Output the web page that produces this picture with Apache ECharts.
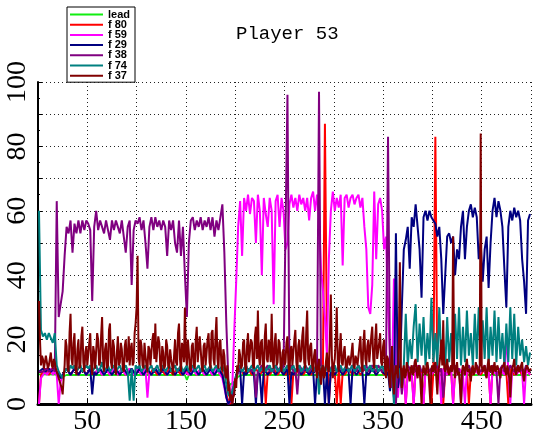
<!DOCTYPE html>
<html>
<head>
<meta charset="utf-8">
<script src="https://cdn.jsdelivr.net/npm/echarts@6/dist/echarts.min.js"></script>
<style>
  html, body { margin: 0; padding: 0; background: #fff; }
  #chart { width: 534px; height: 441px; }
</style>
</head>
<body>
<div id="chart"></div>
<script>
// Most follower traces are sampled every 2 frames from frame 1;
// f 37 is kept at every frame.
const X_FIRST = 1;
const X_STEP = 2;
const F37_STEP = 1;

const seriesNames = ['lead', 'f 80', 'f 59', 'f 29', 'f 38', 'f 74', 'f 37'];
const seriesColors = ['#11ee11', '#ff0000', '#ff00ff', '#000080', '#800080', '#008080', '#800000'];

// lead stays almost flat, so it is stored at its own frames
const leadFrames = [1, 21, 25, 27, 29, 149, 151, 153, 187, 191, 195, 199, 203, 207, 499];
const leadValues = [9.2, 9.1, 8.5, 8, 9, 9, 7.5, 9, 9, 8, 6, 7, 8.5, 9, 9];

const f80 = [
  0, 9, 10, 11, 10, 9, 10, 11, 10, 9, 10, 8, 9, 10, 11, 10, 9, 10, 11, 10, 9, 10, 11, 10, 9,
  10, 11, 10, 9, 10, 11, 10, 9, 10, 11, 10, 9, 10, 11, 10, 9, 10, 11, 10, 9, 10, 11, 10, 9, 10,
  11, 10, 9, 10, 11, 10, 9, 10, 11, 10, 9, 10, 11, 10, 9, 10, 11, 10, 9, 10, 11, 10, 9, 10, 11,
  10, 9, 10, 11, 10, 9, 10, 11, 10, 9, 10, 11, 10, 9, 10, 11, 10, 9, 10, 6, 3, 1, 0, 2, 5,
  8, 10, 11, 10, 9, 10, 11, 10, 9, 10, 11, 10, 9, 10, 11, 0, 10, 9, 10, 11, 10, 9, 10, 11, 10,
  9, 10, 11, 0, 10, 9, 10, 11, 10, 9, 10, 11, 10, 9, 10, 11, 10, 9, 10, 11, 87, 20, 0, 10, 9,
  10, 0, 11, 0, 10, 9, 10, 11, 10, 9, 10, 11, 10, 9, 10, 11, 10, 9, 10, 11, 10, 9, 10, 11, 10,
  9, 10, 11, 10, 9, 10, 12, 10, 9, 11, 10, 0, 10, 9, 10, 0, 11, 10, 9, 10, 0, 11, 10, 9, 0,
  10, 83, 9, 10, 11, 0, 10, 9, 11, 10, 0, 10, 9, 11, 10, 9, 10, 11, 0, 10, 9, 10, 11, 10, 9,
  10, 11, 9, 10, 0, 11, 10, 9, 10, 11, 10, 9, 10, 0, 11, 10, 9, 10, 11, 10, 9, 10, 11, 10, 9
];

const f59 = [
  0, 8, 9, 10, 9, 10, 11, 9, 10, 9, 0, 7, 9, 10, 11, 10, 9, 10, 11, 10, 9, 10, 11, 10, 9,
  10, 11, 10, 9, 10, 11, 10, 9, 10, 11, 10, 9, 10, 11, 10, 9, 10, 11, 10, 9, 10, 11, 10, 9, 10,
  11, 10, 9, 10, 11, 2, 10, 9, 10, 11, 10, 9, 10, 11, 10, 9, 10, 11, 10, 9, 10, 11, 10, 9, 10,
  10, 9, 10, 11, 10, 9, 10, 11, 10, 9, 10, 11, 10, 9, 10, 11, 10, 9, 8, 5, 2, 0, 1, 5, 22,
  38, 55, 63, 46, 64, 60, 65, 59, 64, 63, 50, 65, 60, 40, 64, 59, 55, 64, 60, 31, 63, 65, 55, 64, 60,
  48, 50, 62, 65, 61, 64, 60, 65, 62, 64, 60, 64, 57, 64, 66, 60, 65, 58, 42, 35, 27, 15, 45, 60, 66,
  60, 64, 61, 65, 43, 64, 65, 61, 64, 65, 62, 64, 65, 61, 64, 55, 48, 30, 28, 37, 66, 45, 62, 64, 60,
  48, 52, 30, 15, 8, 39, 10, 2, 11, 10, 9, 0, 10, 11, 9, 0, 10, 12, 10, 9, 0, 10, 11, 10, 9,
  10, 11, 9, 10, 0, 11, 10, 9, 10, 11, 0, 10, 9, 11, 10, 9, 0, 11, 10, 9, 10, 11, 10, 9, 10,
  11, 10, 9, 10, 0, 11, 10, 9, 10, 11, 10, 9, 22, 10, 0, 11, 10, 9, 10, 11, 10, 0, 11, 10, 9
];

const f29 = [
  10, 10, 11, 10, 10, 11, 10, 10, 11, 10, 9, 8, 9, 10, 11, 10, 9, 10, 11, 10, 9, 10, 11, 10, 9,
  10, 11, 3, 10, 9, 10, 11, 10, 9, 10, 11, 10, 9, 10, 11, 10, 9, 10, 11, 10, 9, 10, 11, 10, 9,
  10, 11, 10, 9, 10, 11, 10, 9, 10, 11, 10, 9, 10, 11, 10, 9, 10, 11, 10, 9, 10, 11, 10, 9, 10,
  11, 10, 9, 10, 11, 10, 9, 10, 11, 10, 9, 10, 11, 10, 9, 10, 11, 10, 9, 6, 2, 0, 1, 3, 6,
  9, 10, 11, 0, 10, 9, 10, 11, 10, 9, 0, 10, 9, 0, 11, 10, 9, 10, 11, 10, 9, 10, 11, 10, 9,
  10, 11, 0, 10, 9, 10, 11, 10, 9, 10, 11, 10, 9, 10, 11, 0, 10, 9, 10, 11, 0, 10, 0, 11, 10,
  9, 10, 11, 10, 9, 10, 11, 10, 0, 11, 10, 9, 10, 11, 10, 0, 10, 9, 10, 11, 10, 9, 10, 11, 10,
  10, 9, 10, 4, 11, 2, 53, 5, 10, 30, 48, 51, 55, 42, 58, 55, 62, 55, 48, 33, 58, 60, 57, 60, 58,
  58, 56, 52, 55, 45, 28, 40, 52, 53, 50, 52, 40, 48, 45, 55, 60, 45, 55, 60, 62, 58, 61, 58, 45, 50,
  38, 48, 52, 36, 50, 60, 64, 58, 63, 60, 55, 42, 30, 55, 60, 57, 61, 58, 60, 57, 45, 38, 28, 57, 59
];

const f38 = [
  10, 10, 10, 10, 11, 10, 10, 11, 10, 63, 27, 31, 35, 46, 55, 53, 57, 47, 56, 53, 57, 53, 57, 54, 57,
  56, 54, 32, 55, 60, 54, 57, 55, 53, 57, 54, 51, 57, 54, 57, 55, 53, 57, 52, 47, 55, 57, 37, 54, 57,
  56, 58, 54, 57, 50, 42, 55, 58, 54, 58, 55, 57, 54, 57, 55, 46, 57, 54, 57, 50, 47, 57, 46, 55, 40,
  27, 50, 57, 58, 54, 57, 55, 58, 54, 57, 55, 58, 54, 58, 52, 57, 54, 58, 62, 47, 25, 8, 2, 0, 5,
  8, 10, 11, 10, 11, 12, 10, 11, 10, 12, 2, 10, 11, 12, 10, 11, 12, 10, 11, 10, 12, 11, 10, 12, 11,
  11, 96, 11, 12, 10, 11, 3, 12, 11, 10, 12, 11, 10, 11, 12, 10, 11, 97, 12, 10, 11, 12, 10, 11, 12,
  11, 10, 12, 11, 10, 11, 12, 10, 11, 12, 11, 10, 12, 11, 10, 11, 12, 10, 11, 12, 11, 10, 12, 11, 10,
  11, 12, 83, 10, 5, 12, 0, 11, 10, 3, 11, 10, 12, 11, 10, 12, 10, 11, 12, 10, 11, 9, 12, 10, 11,
  10, 11, 12, 10, 11, 2, 10, 12, 11, 10, 11, 12, 10, 11, 0, 12, 10, 11, 12, 10, 11, 10, 12, 11, 10,
  11, 12, 10, 11, 10, 12, 11, 10, 0, 11, 12, 10, 11, 10, 12, 11, 10, 11, 12, 10, 11, 10, 12, 11, 10
];

const f74 = [
  60, 23, 21, 22, 20, 22, 22, 19, 22, 12, 10, 9, 8, 10, 11, 10, 12, 11, 12, 10, 11, 12, 10, 11, 12,
  11, 12, 10, 11, 12, 10, 11, 13, 10, 11, 12, 10, 11, 12, 10, 11, 12, 10, 11, 12, 10, 1, 11, 1, 12,
  11, 12, 10, 11, 12, 10, 11, 12, 10, 11, 12, 10, 11, 12, 10, 11, 12, 10, 11, 12, 10, 11, 12, 10, 11,
  12, 10, 11, 12, 10, 11, 12, 10, 11, 12, 10, 11, 12, 10, 11, 12, 10, 11, 12, 10, 6, 3, 2, 4, 6,
  9, 11, 12, 10, 11, 12, 10, 11, 12, 10, 11, 12, 10, 11, 12, 10, 11, 12, 10, 11, 12, 10, 11, 12, 10,
  11, 12, 10, 11, 12, 10, 11, 12, 10, 11, 12, 10, 11, 12, 10, 11, 12, 3, 11, 12, 10, 11, 12, 10, 11,
  12, 10, 11, 12, 10, 11, 12, 10, 11, 12, 10, 11, 12, 10, 11, 12, 10, 11, 12, 10, 11, 12, 10, 11, 12,
  10, 11, 12, 10, 11, 0, 12, 10, 11, 5, 12, 28, 12, 20, 14, 24, 31, 13, 25, 15, 27, 12, 22, 14, 33,
  13, 22, 12, 30, 14, 20, 11, 27, 13, 22, 12, 28, 14, 30, 12, 24, 13, 29, 15, 22, 12, 28, 14, 30, 13,
  26, 14, 30, 12, 24, 15, 29, 13, 27, 14, 22, 12, 25, 13, 30, 14, 28, 12, 24, 15, 20, 13, 18, 12, 16
];

// f 37, one value per frame (frames 1..500)
const f37 = [
  32, 20, 12, 15, 14, 11, 11, 15, 13, 11, 12, 14, 16, 12, 11, 14, 13, 11, 10, 9, 8, 7, 6, 5, 3, 8, 12, 20, 18, 11, 10, 22, 28, 14, 12, 19, 22, 11, 9, 17, 20, 11, 12, 21, 24, 13, 10, 16, 18, 12,
  12, 19, 22, 12, 9, 18, 16, 11, 11, 22, 20, 12, 13, 21, 27, 14, 10, 17, 19, 11, 12, 23, 25, 13, 11, 20, 18, 12, 9, 16, 21, 12, 13, 19, 17, 11, 10, 18, 20, 13, 14, 21, 12, 17, 19, 12, 13, 22, 25, 30,
  46, 14, 12, 20, 18, 12, 11, 19, 15, 12, 10, 18, 17, 12, 12, 20, 22, 14, 25, 13, 13, 21, 19, 12, 10, 18, 16, 11, 12, 20, 18, 12, 11, 17, 14, 12, 9, 15, 20, 13, 12, 22, 25, 14, 10, 19, 17, 13, 30, 15,
  12, 20, 16, 11, 10, 18, 19, 12, 11, 20, 24, 13, 13, 21, 17, 12, 10, 18, 19, 12, 12, 20, 22, 13, 11, 22, 23, 14, 12, 21, 27, 14, 11, 19, 20, 12, 10, 17, 15, 9, 8, 12, 4, 6, 1, 3, 0, 2, 3, 8,
  5, 12, 10, 17, 15, 11, 12, 19, 20, 12, 10, 18, 22, 13, 13, 20, 19, 12, 11, 21, 24, 14, 29, 15, 12, 19, 20, 12, 10, 21, 25, 14, 13, 20, 18, 13, 28, 14, 11, 19, 22, 12, 13, 20, 19, 12, 10, 16, 17, 12,
  13, 19, 21, 12, 9, 17, 18, 12, 12, 20, 23, 13, 10, 18, 20, 13, 14, 21, 24, 13, 11, 22, 29, 14, 12, 18, 19, 12, 10, 15, 17, 11, 8, 12, 14, 9, 6, 11, 12, 8, 9, 13, 16, 11, 10, 20, 34, 15, 8, 12,
  14, 20, 30, 13, 10, 17, 22, 13, 12, 16, 18, 12, 11, 14, 15, 12, 13, 16, 19, 12, 11, 15, 14, 12, 12, 18, 21, 13, 10, 19, 23, 14, 12, 18, 20, 13, 13, 21, 24, 14, 11, 20, 25, 14, 14, 19, 22, 13, 12, 18,
  20, 11, 8, 15, 14, 9, 5, 12, 18, 8, 3, 9, 12, 10, 8, 20, 44, 12, 5, 10, 12, 8, 9, 13, 11, 9, 7, 11, 12, 9, 10, 13, 14, 10, 8, 12, 11, 6, 0, 9, 12, 10, 9, 12, 13, 10, 10, 0, 11, 12,
  10, 12, 13, 8, 3, 10, 12, 15, 20, 12, 26, 11, 10, 12, 14, 10, 9, 11, 12, 10, 52, 12, 8, 11, 13, 9, 10, 6, 0, 10, 12, 11, 9, 12, 14, 10, 11, 9, 7, 11, 12, 9, 10, 13, 13, 10, 9, 12, 84, 12,
  10, 11, 12, 9, 8, 12, 14, 10, 11, 12, 9, 11, 13, 10, 10, 12, 12, 9, 8, 11, 11, 12, 13, 10, 9, 12, 12, 8, 2, 9, 11, 12, 14, 10, 9, 11, 12, 10, 10, 12, 13, 9, 7, 10, 11, 12, 12, 10, 10, 11
];

const xLabelTicks = [50, 150, 250, 350, 450];
const yLabelTicks = [0, 20, 40, 60, 80, 100];

function sampled(values, step) {
  return values.map((v, i) => [X_FIRST + step * i, v]);
}
function paired(xs, ys) {
  return xs.map((x, i) => [x, ys[i]]);
}

const seriesData = [
  paired(leadFrames, leadValues),
  sampled(f80, X_STEP), sampled(f59, X_STEP), sampled(f29, X_STEP),
  sampled(f38, X_STEP), sampled(f74, X_STEP), sampled(f37, F37_STEP)
];
const lineWidths = [1.8, 2, 2, 2, 2, 2, 2];

const chart = echarts.init(document.getElementById('chart'), null, { renderer: 'canvas' });

const dotted = { color: '#222', width: 1, type: [1, 3] };

chart.setOption({
  animation: false,
  backgroundColor: '#fff',
  title: {
    text: 'Player 53',
    left: 231,
    top: 19,
    textStyle: { fontFamily: 'Liberation Mono', fontSize: 19, fontWeight: 'normal', color: '#000' }
  },
  legend: {
    orient: 'vertical',
    left: 67,
    top: 7,
    data: seriesNames,
    icon: 'rect',
    itemWidth: 33,
    itemHeight: 2,
    itemGap: -0.8,
    padding: [2, 5, 1, 3],
    borderColor: '#000',
    borderWidth: 1,
    backgroundColor: '#fff',
    textStyle: { fontFamily: 'Liberation Sans', fontWeight: 'bold', fontSize: 11, color: '#000' }
  },
  grid: { left: 38, right: 1, top: 82, bottom: 37, containLabel: false },
  xAxis: {
    type: 'value',
    min: 0,
    max: 500,
    interval: 50,
    axisLine: { lineStyle: { color: '#000', width: 3 } },
    axisTick: { inside: true, length: 5, lineStyle: { color: '#000' } },
    splitLine: { show: true, lineStyle: dotted },
    axisLabel: {
      formatter: v => (xLabelTicks.includes(v) ? String(v) : ''),
      fontFamily: 'Liberation Serif',
      fontSize: 28,
      color: '#000',
      margin: 4
    }
  },
  yAxis: {
    type: 'value',
    min: 0,
    max: 100,
    interval: 10,
    axisLine: { show: true, lineStyle: { color: '#000', width: 2 } },
    axisTick: { show: true, inside: true, length: 4, lineStyle: { color: '#000' } },
    minorTick: { show: true, splitNumber: 2, length: 2, lineStyle: { color: '#000' } },
    splitLine: { show: true, lineStyle: dotted },
    axisLabel: {
      formatter: v => (yLabelTicks.includes(v) ? String(v) : ''),
      rotate: 90,
      fontFamily: 'Liberation Serif',
      fontSize: 28,
      color: '#000',
      margin: 6
    }
  },
  series: seriesNames.map((name, i) => ({
    name,
    type: 'line',
    data: seriesData[i],
    showSymbol: false,
    symbol: 'none',
    color: seriesColors[i],
    lineStyle: { width: lineWidths[i], color: seriesColors[i] },
    clip: true
  }))
});
</script>
</body>
</html>
